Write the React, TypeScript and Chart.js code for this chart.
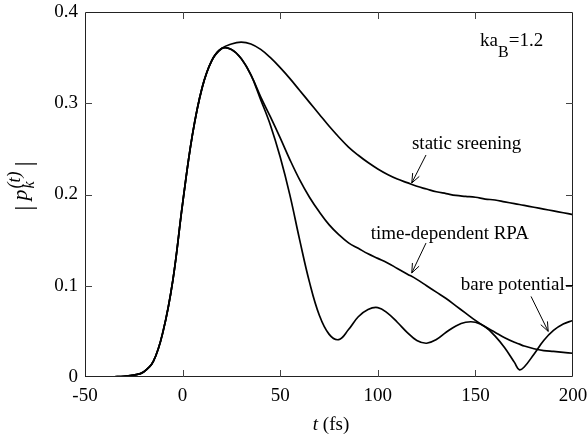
import React, { useEffect, useRef } from "react";
import { Chart, registerables } from "chart.js";

Chart.register(...registerables);

// ---- data ----
const timeFs = [
  -50, -45, -40, -35, -30, -25, -20, -15, -10, -5, 0, 5, 10, 15, 20, 25, 30, 35, 40, 45,
  50, 55, 60, 65, 70, 75, 80, 85, 90, 95, 100, 105, 110, 115, 120, 125, 130, 135, 140, 145,
  150, 155, 160, 165, 170, 172.5, 175, 180, 185, 190, 195, 200,
];

const staticScreening = [
  0, 0, 0.0001, 0.0003, 0.0007, 0.002, 0.0055, 0.017, 0.05, 0.106, 0.19, 0.265, 0.317, 0.347, 0.36, 0.365, 0.367, 0.365, 0.359, 0.35,
  0.339, 0.327, 0.314, 0.301, 0.288, 0.275, 0.263, 0.252, 0.243, 0.235, 0.228, 0.222, 0.217, 0.213, 0.209, 0.206, 0.203, 0.201, 0.199, 0.198,
  0.197, 0.195, 0.194, 0.192, 0.19, 0.189, 0.188, 0.186, 0.184, 0.182, 0.18, 0.178,
];

const timeDependentRPA = [
  0, 0, 0.0001, 0.0003, 0.0007, 0.002, 0.0055, 0.017, 0.05, 0.106, 0.19, 0.265, 0.317, 0.347, 0.36, 0.359, 0.349, 0.331, 0.307, 0.285,
  0.262, 0.238, 0.216, 0.197, 0.181, 0.167, 0.156, 0.147, 0.141, 0.135, 0.13, 0.125, 0.119, 0.113, 0.107, 0.1, 0.093, 0.086, 0.078, 0.07,
  0.062, 0.055, 0.049, 0.043, 0.038, 0.036, 0.034, 0.031, 0.029, 0.028, 0.027, 0.026,
];

const barePotential = [
  0, 0, 0.0001, 0.0003, 0.0007, 0.002, 0.0055, 0.017, 0.05, 0.106, 0.19, 0.265, 0.317, 0.347, 0.36, 0.359, 0.349, 0.331, 0.304, 0.276,
  0.241, 0.199, 0.15, 0.104, 0.068, 0.047, 0.041, 0.052, 0.066, 0.074, 0.076, 0.07, 0.06, 0.049, 0.04, 0.037, 0.041, 0.049, 0.056, 0.06,
  0.06, 0.055, 0.045, 0.032, 0.016, 0.008, 0.011, 0.025, 0.04, 0.051, 0.058, 0.062,
];

const xTickValues = [-50, 0, 50, 100, 150, 200];
const yTickValues = [0, 0.1, 0.2, 0.3, 0.4];
const xInnerTicks = [0, 50, 100, 150];
const yInnerTicks = [0.1, 0.2, 0.3];

// annotations (data coordinates)
const curveLabels = [
  { text: "static sreening", x: 117.5, y: 0.2502, from: [124.7, 0.2433], to: [117.4, 0.2126], leader: false },
  { text: "time-dependent RPA", x: 96.4, y: 0.1516, from: [124.7, 0.1468], to: [117.4, 0.114], leader: false },
  { text: "bare potential", x: 142.5, y: 0.0958, from: [178.5, 0.0883], to: [187.3, 0.05], leader: true },
];
const paramLabel = { x: 152.4, y: 0.3623 };

const SERIF = '"Liberation Serif", "Times New Roman", serif';

function drawArrow(ctx: CanvasRenderingContext2D, x1: number, y1: number, x2: number, y2: number) {
  ctx.beginPath();
  ctx.moveTo(x1, y1);
  ctx.lineTo(x2, y2);
  ctx.stroke();
  const ang = Math.atan2(y2 - y1, x2 - x1);
  const len = 10;
  const spread = 0.38;
  ctx.beginPath();
  ctx.moveTo(x2 - len * Math.cos(ang - spread), y2 - len * Math.sin(ang - spread));
  ctx.lineTo(x2, y2);
  ctx.lineTo(x2 - len * Math.cos(ang + spread), y2 - len * Math.sin(ang + spread));
  ctx.stroke();
}

const decorPlugin = {
  id: "decor",
  afterDraw(chart: any) {
    const { ctx, chartArea: a } = chart;
    const xs = chart.scales.x;
    const ys = chart.scales.y;
    const px = (v: number) => xs.getPixelForValue(v);
    const py = (v: number) => ys.getPixelForValue(v);
    ctx.save();

    // frame
    ctx.strokeStyle = "#222";
    ctx.lineWidth = 1;
    ctx.beginPath();
    ctx.rect(Math.round(a.left) + 0.5, Math.round(a.top) + 0.5, Math.round(a.right - a.left) - 1, Math.round(a.bottom - a.top) - 1);
    ctx.stroke();

    // inward ticks
    ctx.strokeStyle = "#444";
    const tl = 7;
    ctx.beginPath();
    for (const v of xInnerTicks) {
      const X = Math.round(px(v)) + 0.5;
      ctx.moveTo(X, a.bottom);
      ctx.lineTo(X, a.bottom - tl);
      ctx.moveTo(X, a.top);
      ctx.lineTo(X, a.top + tl);
    }
    for (const v of yInnerTicks) {
      const Y = Math.round(py(v)) + 0.5;
      ctx.moveTo(a.left, Y);
      ctx.lineTo(a.left + tl, Y);
      ctx.moveTo(a.right, Y);
      ctx.lineTo(a.right - tl, Y);
    }
    ctx.stroke();

    ctx.fillStyle = "#000";
    ctx.strokeStyle = "#000";
    ctx.textBaseline = "alphabetic";
    ctx.textAlign = "left";

    // ka_B = 1.2
    {
      let x = px(paramLabel.x);
      const y = py(paramLabel.y);
      ctx.font = `19px ${SERIF}`;
      ctx.fillText("ka", x, y);
      x += ctx.measureText("ka").width;
      ctx.font = `16px ${SERIF}`;
      ctx.fillText("B", x, y + 11);
      x += ctx.measureText("B").width;
      ctx.font = `19px ${SERIF}`;
      ctx.fillText("=1.2", x, y);
    }

    // curve labels + arrows
    ctx.lineWidth = 1;
    for (const l of curveLabels) {
      ctx.font = `19px ${SERIF}`;
      const tx = px(l.x);
      const ty = py(l.y);
      ctx.fillText(l.text, tx, ty);
      if (l.leader) {
        const w = ctx.measureText(l.text).width;
        ctx.beginPath();
        ctx.moveTo(tx + w + 1, Math.round(ty - 5) + 0.5);
        ctx.lineTo(a.right, Math.round(ty - 5) + 0.5);
        ctx.stroke();
      }
      drawArrow(ctx, px(l.from[0]), py(l.from[1]), px(l.to[0]), py(l.to[1]));
    }

    // x title: t (fs)
    {
      ctx.font = `italic 19px ${SERIF}`;
      const w1 = ctx.measureText("t").width;
      ctx.font = `19px ${SERIF}`;
      const w2 = ctx.measureText(" (fs)").width;
      const cx = (a.left + a.right) / 2 + 2;
      const x = cx - (w1 + w2) / 2;
      const y = 430;
      ctx.font = `italic 19px ${SERIF}`;
      ctx.fillText("t", x, y);
      ctx.font = `19px ${SERIF}`;
      ctx.fillText(" (fs)", x + w1, y);
    }

    // y title: |p_k(t)|
    {
      ctx.save();
      ctx.translate(27, 186);
      ctx.rotate(-Math.PI / 2);
      const barFont = `26px ${SERIF}`;
      const pFont = `italic 22px ${SERIF}`;
      const kFont = `italic 16px ${SERIF}`;
      const tFont = `italic 18px ${SERIF}`;
      const gap = 5;
      ctx.font = barFont;
      const wb = ctx.measureText("|").width;
      ctx.font = pFont;
      const wp = ctx.measureText("p").width;
      ctx.font = kFont;
      const wk = ctx.measureText("k").width;
      ctx.font = tFont;
      const wt = ctx.measureText("(t)").width;
      const total = wb + gap + wp + 1 + Math.max(wk, wt) + gap + wb;
      let x = -total / 2;
      ctx.font = barFont;
      ctx.fillText("|", x, 5);
      x += wb + gap;
      ctx.font = pFont;
      ctx.fillText("p", x, 0);
      x += wp + 1;
      ctx.font = kFont;
      ctx.fillText("k", x, 7);
      ctx.font = tFont;
      ctx.fillText("(t)", x, -7);
      x += Math.max(wk, wt) + gap;
      ctx.font = barFont;
      ctx.fillText("|", x, 5);
      ctx.restore();
    }

    ctx.restore();
  },
};

export default function App() {
  const canvasRef = useRef<HTMLCanvasElement | null>(null);

  useEffect(() => {
    const canvas = canvasRef.current;
    if (!canvas) return;
    const mk = (vals: number[]) => timeFs.map((t, i) => ({ x: t, y: vals[i] }));
    const lineStyle = {
      borderColor: "#000",
      borderWidth: 1.7,
      pointRadius: 0,
      fill: false,
      tension: 0.4,
    };
    const chart = new Chart(canvas, {
      type: "line",
      data: {
        datasets: [
          { label: "static sreening", data: mk(staticScreening), ...lineStyle },
          { label: "time-dependent RPA", data: mk(timeDependentRPA), ...lineStyle },
          { label: "bare potential", data: mk(barePotential), ...lineStyle },
        ],
      },
      options: {
        responsive: false,
        animation: false,
        devicePixelRatio: 1,
        layout: { padding: { top: 12, right: 14, left: 0, bottom: 0 } },
        plugins: { legend: { display: false }, tooltip: { enabled: false } },
        scales: {
          x: {
            type: "linear",
            min: -50,
            max: 200,
            afterBuildTicks: (s: any) => {
              s.ticks = xTickValues.map((v) => ({ value: v }));
            },
            afterFit: (s: any) => {
              s.height = 60;
              s.paddingLeft = 0;
              s.paddingRight = 0;
            },
            grid: { display: false, drawTicks: false },
            border: { display: false },
            ticks: {
              color: "#000",
              font: { family: SERIF, size: 19 },
              padding: 8,
              maxRotation: 0,
              autoSkip: false,
              callback: (v: any) => String(v),
            },
          },
          y: {
            type: "linear",
            min: 0,
            max: 0.4,
            afterBuildTicks: (s: any) => {
              s.ticks = yTickValues.map((v) => ({ value: v }));
            },
            afterFit: (s: any) => {
              s.width = 85;
              s.paddingTop = 0;
              s.paddingBottom = 0;
            },
            grid: { display: false, drawTicks: false },
            border: { display: false },
            ticks: {
              color: "#000",
              font: { family: SERIF, size: 19 },
              padding: 7,
              autoSkip: false,
              callback: (v: any) => String(Math.round(Number(v) * 10) / 10),
            },
          },
        },
      },
      plugins: [decorPlugin],
    });
    return () => chart.destroy();
  }, []);

  return (
    <div style={{ position: "absolute", left: 0, top: 0, width: 587, height: 437, background: "#fff" }}>
      <canvas ref={canvasRef} width={587} height={437} style={{ display: "block" }} />
    </div>
  );
}
